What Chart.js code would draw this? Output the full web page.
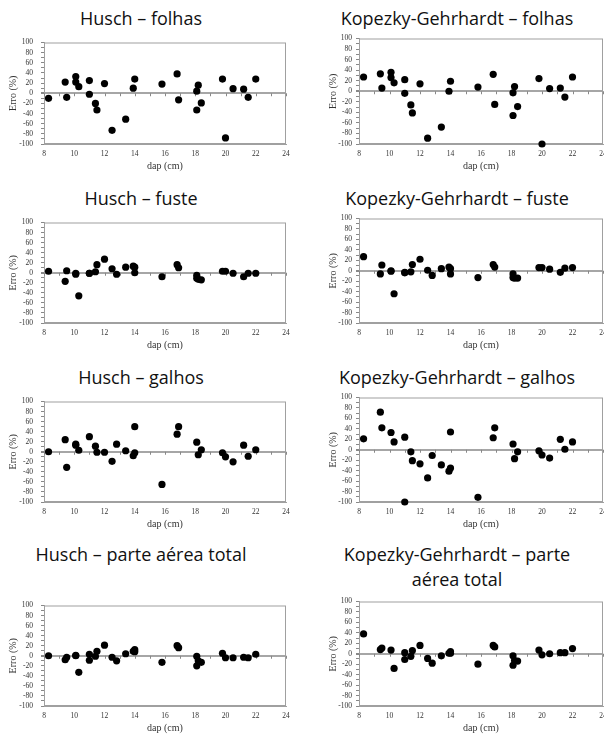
<!DOCTYPE html>
<html lang="pt">
<head>
<meta charset="UTF-8">
<title>Erro (%) x dap</title>
<script src="https://cdn.jsdelivr.net/npm/chart.js"></script>
<style>
  body { margin: 0; width: 604px; height: 735px; overflow: hidden; background: #fff; position: relative; }
  .titulo { position: absolute; width: 300px; text-align: center; font-family: "Open Sans", sans-serif;
            font-size: 18px; line-height: 25px; color: #111; }
  canvas { position: absolute; }
</style>
</head>
<body>
<script>
// dap (cm) das árvores amostradas
const dap = [8.3, 9.4, 9.5, 10.1, 10.1, 10.3, 11.0, 11.0, 11.4, 11.5, 12.0, 12.5, 12.8, 13.4, 13.9,
             14.0, 14.0, 15.8, 16.8, 16.9, 18.1, 18.1, 18.2, 18.4, 19.8, 20.0, 20.5, 21.2, 21.5, 22.0];

// erro (%) por árvore, null = sem ponto
const huschFolhas = [-10, 22, -8, 33, 22, 13, 25, -2, -20, -33, 19, -73, null, -51, 10,
                     28, null, 18, 38, -13, 4, -33, 16, -19, 28, -88, 9, 8, -8, 28];
const kopezkyFolhas = [27, 33, 6, 36, 26, 16, 22, -4, -26, -41, 14, -89, null, -68, 0,
                       19, null, 8, 32, -25, -3, -46, 9, -29, 24, -100, 5, 6, -11, 27];
const huschFuste = [3, -17, 4, -1, -3, -46, -1, -1, 2, 16, 27, 8, -3, 11, 13,
                    11, 0, -8, 16, 10, -5, -11, -13, -14, 3, 3, -1, -8, -1, -1];
const kopezkyFuste = [27, -6, 11, 0, -1, -44, -4, -3, -2, 12, 22, 1, -9, 4, 7,
                      4, -6, -13, 12, 7, -6, -13, -14, -14, 6, 6, 3, -3, 5, 6];
const huschGalhos = [0, 24, -31, 15, 13, 3, 30, null, 11, -1, -1, -19, 15, 2, -8,
                     50, -2, -65, 35, 50, 19, null, -6, 4, -2, -10, -20, 13, -9, 4];
const kopezkyGalhos = [21, 72, 42, 33, null, 15, 24, -100, -4, -21, -27, -54, -11, -29, -41,
                       34, -35, -91, 23, 42, 11, null, -17, -4, -2, -10, -16, 20, 1, 15];
const huschTotal = [0, -8, -3, 1, 0, -33, 3, -9, -1, 9, 21, -3, -10, 4, 9,
                    12, 8, -13, 20, 16, -1, -20, -10, -13, 5, -4, -4, -3, -4, 3];
const kopezkyTotal = [38, 8, 11, 7, null, -28, 2, -11, -5, 6, 16, -9, -18, -4, 1,
                      4, 1, -20, 16, 13, -4, -22, -13, -14, 7, -2, 0, 2, 2, 10];

const panels = [
  { titulo: ['Husch – folhas'], erro: huschFolhas, col: 0, row: 0 },
  { titulo: ['Kopezky-Gehrhardt – folhas'], erro: kopezkyFolhas, col: 1, row: 0 },
  { titulo: ['Husch – fuste'], erro: huschFuste, col: 0, row: 1 },
  { titulo: ['Kopezky-Gehrhardt – fuste'], erro: kopezkyFuste, col: 1, row: 1 },
  { titulo: ['Husch – galhos'], erro: huschGalhos, col: 0, row: 2 },
  { titulo: ['Kopezky-Gehrhardt – galhos'], erro: kopezkyGalhos, col: 1, row: 2 },
  { titulo: ['Husch – parte aérea total'], erro: huschTotal, col: 0, row: 3 },
  { titulo: ['Kopezky-Gehrhardt – parte', 'aérea total'], erro: kopezkyTotal, col: 1, row: 3 }
];

const rowTop = [38, 218, 397, 601];
const rowH = [106, 105, 105, 105];
const titleY = [18, 198, 377, 554];
const colCenter = [141, 457];

// moldura da área do gráfico + marcas no eixo zero
const moldura = {
  id: 'moldura',
  beforeDatasetsDraw(chart) {
    const { ctx, chartArea: a, scales: { x, y } } = chart;
    ctx.save();
    ctx.strokeStyle = '#a0a0a0';
    ctx.lineWidth = 1;
    ctx.strokeRect(a.left + 0.5, a.top + 0.5, a.right - a.left - 1, a.bottom - a.top - 1);
    const y0 = y.getPixelForValue(0);
    ctx.strokeStyle = '#888';
    for (let v = 8; v <= 24; v++) {
      const px = Math.round(x.getPixelForValue(v)) + 0.5;
      ctx.beginPath();
      ctx.moveTo(px, y0);
      ctx.lineTo(px, y0 + 3);
      ctx.stroke();
    }
    ctx.restore();
  }
};

const serif = 'Liberation Serif, "Times New Roman", serif';

panels.forEach(p => {
  const t = document.createElement('div');
  t.className = 'titulo';
  t.innerHTML = p.titulo.join('<br>');
  t.style.left = (colCenter[p.col] - 150) + 'px';
  t.style.top = (titleY[p.row] - 12.5) + 'px';
  document.body.appendChild(t);

  const left = p.col === 0 ? 0 : 302;
  const w = p.col === 0 ? 302 : 320;
  const padLeft = p.col === 0 ? 3 : 21;
  const yW = p.col === 0 ? 41 : 36;
  const padRight = p.col === 0 ? 16 : 19;
  const labelPad = p.col === 0 ? 8 : 4;
  const xH = 32;
  const h = 8 + rowH[p.row] + xH;

  const c = document.createElement('canvas');
  c.width = w; c.height = h;
  c.style.left = left + 'px';
  c.style.top = (rowTop[p.row] - 8) + 'px';
  c.style.width = w + 'px';
  c.style.height = h + 'px';
  document.body.appendChild(c);

  const pontos = [];
  dap.forEach((d, i) => { if (p.erro[i] !== null) pontos.push({ x: d, y: p.erro[i] }); });

  new Chart(c.getContext('2d'), {
    type: 'scatter',
    data: {
      datasets: [{
        data: pontos,
        backgroundColor: '#000',
        borderWidth: 0,
        pointRadius: 3.6,
        pointHoverRadius: 3.6,
        clip: false
      }]
    },
    options: {
      responsive: false,
      animation: false,
      devicePixelRatio: 1,
      layout: { padding: { top: 8, right: padRight, bottom: 0, left: padLeft } },
      plugins: { legend: { display: false }, tooltip: { enabled: false } },
      scales: {
        x: {
          type: 'linear', min: 8, max: 24,
          afterFit: s => { s.height = xH; },
          ticks: {
            stepSize: 1, autoSkip: false, maxRotation: 0, padding: 6,
            color: '#333', font: { family: serif, size: 7.5 },
            callback: v => (v % 2 === 0 ? v : '')
          },
          grid: { drawOnChartArea: false, drawTicks: false },
          border: { color: '#a0a0a0' },
          title: { display: true, text: 'dap (cm)', color: '#333', padding: { top: 0, bottom: 4 },
                   font: { family: serif, size: 10 } }
        },
        y: {
          min: -100, max: 100,
          afterFit: s => { s.width = yW; },
          ticks: {
            stepSize: 10, autoSkip: false, padding: labelPad,
            color: '#333', font: { family: serif, size: 7.5 },
            callback: v => (v % 20 === 0 ? v : '')
          },
          grid: {
            color: ctx => (ctx.tick && ctx.tick.value === 0 ? '#a6a6a6' : 'rgba(0,0,0,0)'),
            lineWidth: ctx => (ctx.tick && ctx.tick.value === 0 ? 2 : 1),
            tickColor: '#888', tickLength: 3
          },
          border: { color: '#a0a0a0' },
          title: { display: true, text: 'Erro (%)', color: '#333', padding: { top: 4, bottom: 0 },
                   font: { family: serif, size: 10 } }
        }
      }
    },
    plugins: [moldura]
  });
});
</script>
</body>
</html>
